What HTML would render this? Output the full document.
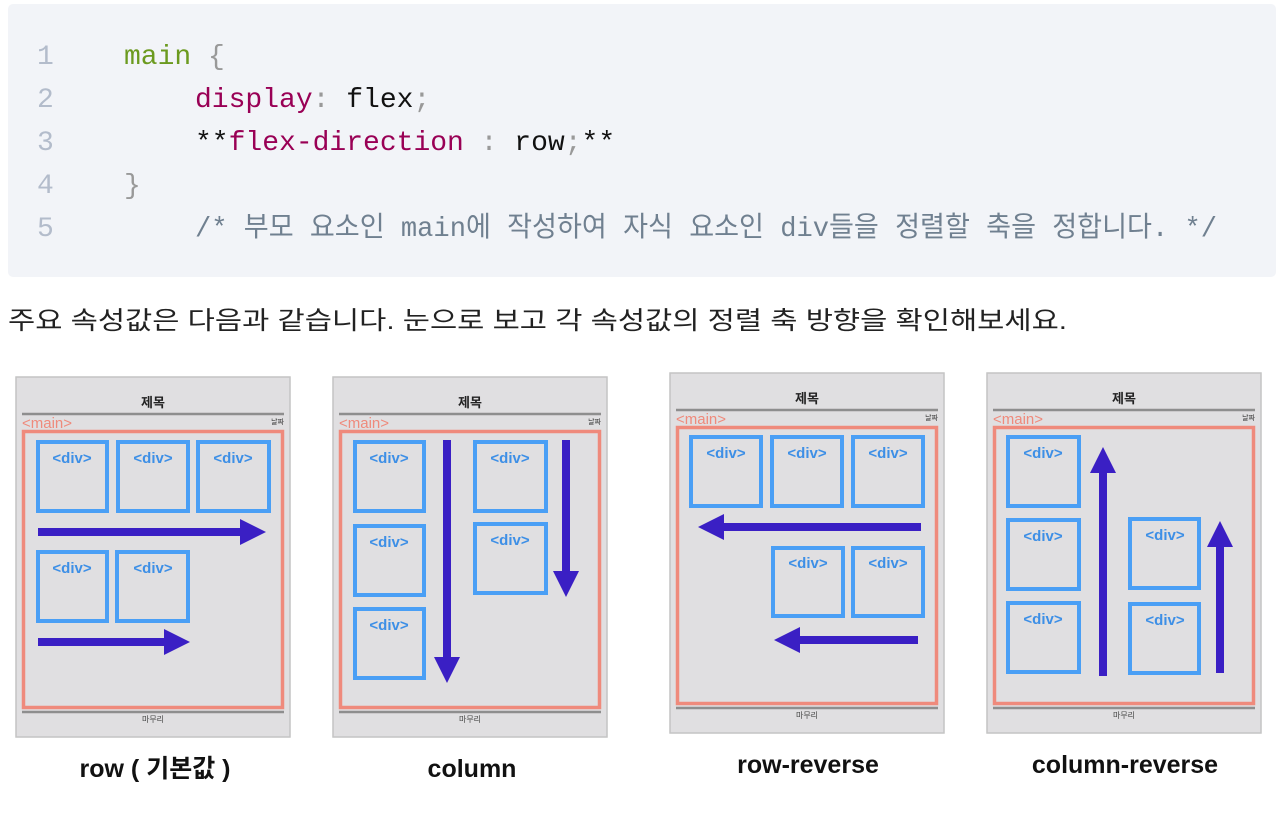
<!DOCTYPE html>
<html><head><meta charset="utf-8"><style>
html,body{margin:0;padding:0;background:#fff;width:1276px;height:818px;overflow:hidden}
svg{display:block}
.mono{font-family:"Liberation Mono","Noto Sans CJK KR",monospace;font-size:28px}
.ttl{font-family:"Liberation Sans","Noto Sans CJK KR",sans-serif;font-weight:bold;font-size:12px;fill:#222}
.dv{font-family:"Liberation Sans",sans-serif;font-weight:bold;font-size:15px;fill:#3d8fe6}
.mn{font-family:"Liberation Sans",sans-serif;font-size:15px;fill:#ef8a7c}
.cap{font-family:"Liberation Sans","Noto Sans CJK KR",sans-serif;font-weight:bold;font-size:25px;fill:#111}
</style></head><body>
<svg width="1276" height="818" viewBox="0 0 1276 818" xmlns="http://www.w3.org/2000/svg">
<defs>
<g id="panel">
  <rect x="0" y="0" width="274" height="360" fill="#e0dfe1" stroke="#c4c4c4" stroke-width="1.5"/>
  <text x="137" y="30" text-anchor="middle" class="ttl" style="font-size:13px">제목</text>
  <line x1="6" y1="37" x2="268" y2="37" stroke="#8e8e8e" stroke-width="2.5"/>
  <text x="6" y="51" class="mn">&lt;main&gt;</text>
  <text x="268" y="47" text-anchor="end" style="font-family:'Noto Sans CJK KR',sans-serif;font-size:7px;fill:#333">날짜</text>
  <rect x="7.5" y="54.5" width="259" height="276" fill="none" stroke="#ef8a7c" stroke-width="3.5"/>
  <line x1="6" y1="335" x2="268" y2="335" stroke="#8e8e8e" stroke-width="2.5"/>
  <text x="137" y="345" text-anchor="middle" style="font-family:'Noto Sans CJK KR',sans-serif;font-size:8px;fill:#444">마무리</text>
</g>
</defs>
<!-- code block -->
<rect x="8" y="4" width="1268" height="273" rx="5" fill="#f2f4f8"/>
<g class="mono">
<text x="37" y="64" fill="#b3bccb">1</text>
<text x="37" y="107" fill="#b3bccb">2</text>
<text x="37" y="150" fill="#b3bccb">3</text>
<text x="37" y="193" fill="#b3bccb">4</text>
<text x="37" y="236" fill="#b3bccb">5</text>
<text x="124" y="64"><tspan fill="#6b9a1f">main</tspan><tspan fill="#999"> {</tspan></text>
<text x="195" y="107"><tspan fill="#990055">display</tspan><tspan fill="#999">: </tspan><tspan fill="#111">flex</tspan><tspan fill="#999">;</tspan></text>
<text x="195" y="150"><tspan fill="#111">**</tspan><tspan fill="#990055">flex-direction</tspan><tspan fill="#999"> : </tspan><tspan fill="#111">row</tspan><tspan fill="#999">;</tspan><tspan fill="#111">**</tspan></text>
<text x="124" y="193" fill="#999">}</text>
<text x="195" y="236" fill="#708090" textLength="1022" lengthAdjust="spacingAndGlyphs">/* 부모 요소인 main에 작성하여 자식 요소인 div들을 정렬할 축을 정합니다. */</text>
</g>
<text x="8" y="329" textLength="1059" lengthAdjust="spacingAndGlyphs" style="font-family:'Liberation Sans','Noto Sans CJK KR',sans-serif;font-size:25px;fill:#222">주요 속성값은 다음과 같습니다. 눈으로 보고 각 속성값의 정렬 축 방향을 확인해보세요.</text>

<!-- Panel 1: row -->
<g transform="translate(16,377)">
<use href="#panel"/>
<g fill="none" stroke="#4a9ff5" stroke-width="4">
<rect x="22" y="65" width="69" height="69"/><rect x="102" y="65" width="70" height="69"/><rect x="182" y="65" width="71" height="69"/>
<rect x="22" y="175" width="69" height="69"/><rect x="101" y="175" width="71" height="69"/>
</g>
<g class="dv" text-anchor="middle"><text x="56" y="86">&lt;div&gt;</text><text x="137" y="86">&lt;div&gt;</text><text x="217" y="86">&lt;div&gt;</text><text x="56" y="196">&lt;div&gt;</text><text x="137" y="196">&lt;div&gt;</text></g>
<g fill="#3a1fc4"><rect x="22" y="151" width="208" height="8"/><polygon points="224,142 250,155 224,168"/>
<rect x="22" y="261" width="130" height="8"/><polygon points="148,252 174,265 148,278"/></g>
</g>
<text x="155" y="777" text-anchor="middle" class="cap">row ( 기본값 )</text>

<!-- Panel 2: column -->
<g transform="translate(333,377)">
<use href="#panel"/>
<g fill="none" stroke="#4a9ff5" stroke-width="4">
<rect x="22" y="65" width="69" height="69"/><rect x="22" y="149" width="69" height="69"/><rect x="22" y="232" width="69" height="69"/>
<rect x="142" y="65" width="71" height="69"/><rect x="142" y="147" width="71" height="69"/>
</g>
<g class="dv" text-anchor="middle"><text x="56" y="86">&lt;div&gt;</text><text x="56" y="170">&lt;div&gt;</text><text x="56" y="253">&lt;div&gt;</text><text x="177" y="86">&lt;div&gt;</text><text x="177" y="168">&lt;div&gt;</text></g>
<g fill="#3a1fc4"><rect x="110" y="63" width="8" height="220"/><polygon points="101,280 127,280 114,306"/>
<rect x="229" y="63" width="8" height="135"/><polygon points="220,194 246,194 233,220"/></g>
</g>
<text x="472" y="777" text-anchor="middle" class="cap">column</text>

<!-- Panel 3: row-reverse -->
<g transform="translate(670,373)">
<use href="#panel"/>
<g fill="none" stroke="#4a9ff5" stroke-width="4">
<rect x="21" y="64" width="70" height="69"/><rect x="102" y="64" width="70" height="69"/><rect x="183" y="64" width="70" height="69"/>
<rect x="103" y="175" width="70" height="68"/><rect x="183" y="175" width="70" height="68"/>
</g>
<g class="dv" text-anchor="middle"><text x="56" y="85">&lt;div&gt;</text><text x="137" y="85">&lt;div&gt;</text><text x="218" y="85">&lt;div&gt;</text><text x="138" y="195">&lt;div&gt;</text><text x="218" y="195">&lt;div&gt;</text></g>
<g fill="#3a1fc4"><rect x="50" y="150" width="201" height="8"/><polygon points="54,141 28,154 54,167"/>
<rect x="126" y="263" width="122" height="8"/><polygon points="130,254 104,267 130,280"/></g>
</g>
<text x="808" y="773" text-anchor="middle" class="cap">row-reverse</text>

<!-- Panel 4: column-reverse -->
<g transform="translate(987,373)">
<use href="#panel"/>
<g fill="none" stroke="#4a9ff5" stroke-width="4">
<rect x="21" y="64" width="71" height="69"/><rect x="21" y="147" width="71" height="69"/><rect x="21" y="230" width="71" height="69"/>
<rect x="143" y="146" width="69" height="69"/><rect x="143" y="231" width="69" height="69"/>
</g>
<g class="dv" text-anchor="middle"><text x="56" y="85">&lt;div&gt;</text><text x="56" y="168">&lt;div&gt;</text><text x="56" y="251">&lt;div&gt;</text><text x="178" y="167">&lt;div&gt;</text><text x="178" y="252">&lt;div&gt;</text></g>
<g fill="#3a1fc4"><rect x="112" y="96" width="8" height="207"/><polygon points="103,100 129,100 116,74"/>
<rect x="229" y="170" width="8" height="130"/><polygon points="220,174 246,174 233,148"/></g>
</g>
<text x="1125" y="773" text-anchor="middle" class="cap">column-reverse</text>
</svg>
</body></html>
